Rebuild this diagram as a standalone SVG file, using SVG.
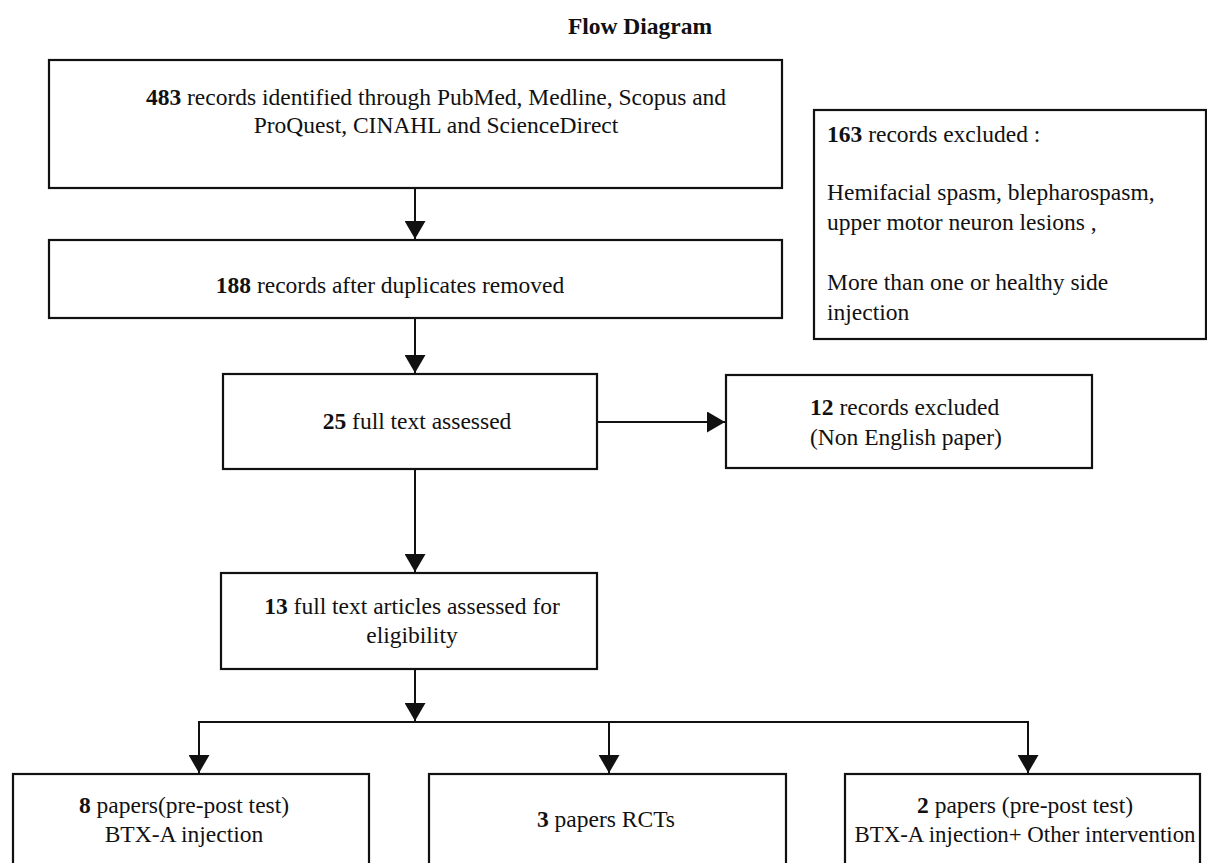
<svg xmlns="http://www.w3.org/2000/svg" width="1207" height="863" viewBox="0 0 1207 863">
<style>
.box{fill:#fff;stroke:#111;stroke-width:2.2}
.t{font-family:"Liberation Serif","Times New Roman",serif;font-size:23.5px;fill:#111}
.c{text-anchor:middle}
.b{font-weight:bold}
.ln{fill:none;stroke:#111;stroke-width:2}
</style>
<defs>
<marker id="ah" markerUnits="userSpaceOnUse" markerWidth="18" markerHeight="21" refX="18" refY="10.5" orient="auto" viewBox="0 0 18 21">
<path d="M0,0 L18,10.5 L0,21 z" fill="#111"/>
</marker>
</defs>
<rect width="1207" height="863" fill="#fff"/>
<text class="t c b" x="640" y="34">Flow Diagram</text>

<g id="connectors">
<path class="ln" d="M415,188 V239" marker-end="url(#ah)"/>
<path class="ln" d="M415,318 V373" marker-end="url(#ah)"/>
<path class="ln" d="M597,422 H725" marker-end="url(#ah)"/>
<path class="ln" d="M415,469 V572" marker-end="url(#ah)"/>
<path class="ln" d="M415,669 V721" marker-end="url(#ah)"/>
<path class="ln" d="M198,722 H1029"/>
<path class="ln" d="M199,722 V773" marker-end="url(#ah)"/>
<path class="ln" d="M609,722 V773" marker-end="url(#ah)"/>
<path class="ln" d="M1028,722 V773" marker-end="url(#ah)"/>
</g>

<g id="n1">
<rect class="box" x="49" y="60" width="733" height="128"/>
<text class="t c" x="436" y="105"><tspan class="b">483</tspan> records identified through PubMed, Medline, Scopus and</text>
<text class="t c" x="436" y="133">ProQuest, CINAHL and ScienceDirect</text>
</g>

<g id="n2">
<rect class="box" x="49" y="240" width="733" height="78"/>
<text class="t c" x="390" y="293"><tspan class="b">188</tspan> records after duplicates removed</text>
</g>

<g id="n163">
<rect class="box" x="814" y="110" width="392" height="229"/>
<text class="t" x="827" y="142"><tspan class="b">163</tspan> records excluded :</text>
<text class="t" x="827" y="200">Hemifacial spasm, blepharospasm,</text>
<text class="t" x="827" y="230">upper motor neuron lesions ,</text>
<text class="t" x="827" y="290">More than one or healthy side</text>
<text class="t" x="827" y="320">injection</text>
</g>

<g id="n3">
<rect class="box" x="223" y="374" width="374" height="95"/>
<text class="t c" x="417" y="429"><tspan class="b">25</tspan> full text assessed</text>
</g>

<g id="n12">
<rect class="box" x="726" y="375" width="366" height="93"/>
<text class="t" x="810" y="415"><tspan class="b">12</tspan> records excluded</text>
<text class="t" x="810" y="445">(Non English paper)</text>
</g>

<g id="n5">
<rect class="box" x="221" y="573" width="376" height="96"/>
<text class="t c" x="412" y="614"><tspan class="b">13</tspan> full text articles assessed for</text>
<text class="t c" x="412" y="643">eligibility</text>
</g>

<g id="n8">
<rect class="box" x="13" y="774" width="356" height="100"/>
<text class="t c" x="184" y="813"><tspan class="b">8</tspan> papers(pre-post test)</text>
<text class="t c" x="184" y="842">BTX-A injection</text>
</g>

<g id="nrct">
<rect class="box" x="429" y="774" width="357" height="100"/>
<text class="t c" x="606" y="827"><tspan class="b">3</tspan> papers RCTs</text>
</g>

<g id="n2p">
<rect class="box" x="845" y="774" width="355" height="100"/>
<text class="t c" x="1025" y="813"><tspan class="b">2</tspan> papers (pre-post test)</text>
<text class="t c" x="1025" y="842" textLength="341" lengthAdjust="spacingAndGlyphs">BTX-A injection+ Other intervention</text>
</g>
</svg>
